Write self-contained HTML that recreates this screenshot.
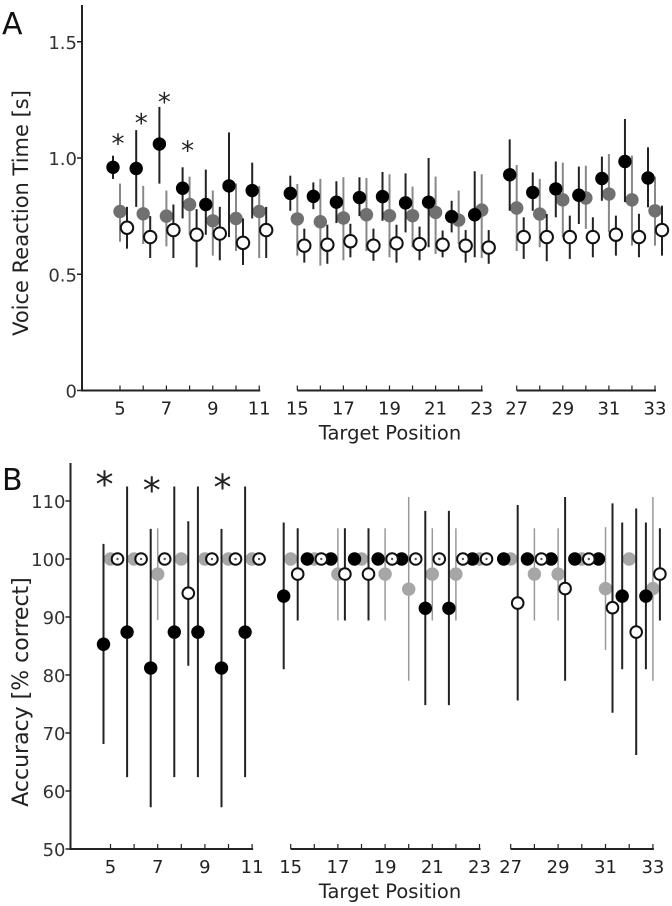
<!DOCTYPE html>
<html><head><meta charset="utf-8"><style>
html,body{margin:0;padding:0;background:#fff;}
svg{display:block;font-family:"DejaVu Sans","Liberation Sans",sans-serif;}
</style></head><body>
<svg id="fig" width="672" height="906" viewBox="0 0 672 906" xmlns="http://www.w3.org/2000/svg"></svg>
<script>
// ---------- data ----------
const positions = [5,6,7,8,9,10,11, 15,16,17,18,19,20,21,22,23, 27,28,29,30,31,32,33];
const tickLabels = [5,7,9,11,15,17,19,21,23,27,29,31,33];

// Panel A: voice reaction time [s]
const aBlack   = [0.96,0.955,1.06,0.87,0.80,0.88,0.86, 0.848,0.835,0.81,0.83,0.834,0.807,0.81,0.748,0.756, 0.928,0.852,0.867,0.84,0.912,0.985,0.914];
const aBlackLo = [0.91,0.79,0.89,0.74,0.67,0.66,0.74, 0.773,0.78,0.72,0.75,0.73,0.68,0.616,0.68,0.573, 0.773,0.773,0.745,0.716,0.816,0.81,0.788];
const aBlackHi = [1.01,1.12,1.22,0.96,0.95,1.11,0.98, 0.924,0.895,0.90,0.917,0.94,0.934,1.0,0.816,0.943, 1.08,0.938,0.985,0.963,1.006,1.168,1.046];
const aGray    = [0.77,0.76,0.75,0.80,0.73,0.74,0.77, 0.738,0.726,0.742,0.756,0.752,0.752,0.766,0.733,0.776, 0.785,0.759,0.82,0.828,0.845,0.82,0.773];
const aGrayLo  = [0.64,0.63,0.62,0.67,0.58,0.60,0.57, 0.58,0.537,0.56,0.60,0.573,0.616,0.587,0.63,0.57, 0.60,0.616,0.66,0.695,0.68,0.623,0.623];
const aGrayHi  = [0.89,0.88,0.86,0.92,0.86,0.89,0.88, 0.888,0.91,0.917,0.914,0.93,0.877,0.92,0.86,0.93, 0.97,0.91,0.98,0.967,1.017,1.01,0.92];
const aOpen    = [0.70,0.66,0.69,0.67,0.675,0.635,0.69, 0.623,0.627,0.642,0.623,0.633,0.63,0.627,0.623,0.615, 0.66,0.66,0.66,0.66,0.67,0.66,0.69];
const aOpenLo  = [0.61,0.57,0.57,0.53,0.56,0.54,0.57, 0.55,0.545,0.573,0.558,0.55,0.56,0.573,0.55,0.545, 0.566,0.556,0.566,0.573,0.58,0.573,0.58];
const aOpenHi  = [0.79,0.75,0.80,0.78,0.79,0.74,0.79, 0.696,0.713,0.717,0.696,0.713,0.705,0.688,0.69,0.69, 0.745,0.759,0.752,0.745,0.752,0.76,0.795];
const aYTicks = [0,0.5,1.0,1.5];
const aYTickLabels = ["0","0.5","1.0","1.5"];
const aStarPositions = [5,6,7,8];
const aStarValues = [1.09,1.18,1.27,1.06];

// Panel B: accuracy [% correct]
const N = null;
const bBlack   = [85.3,87.4,81.2,87.4,87.4,81.2,87.4, 93.6,100,100,100,100,100,91.5,91.5,100, 100,100,100,100,100,93.6,93.6];
const bBlackLo = [68.1,62.4,57.2,62.4,62.4,57.2,62.4, 81.0,N,N,N,N,N,74.8,74.8,N, N,N,N,N,N,81.0,81.0];
const bBlackHi = [102.6,112.5,105.2,112.5,112.5,105.2,112.5, 106.3,N,N,N,N,N,108.3,108.3,N, N,N,N,N,N,106.3,106.3];
const bGray    = [100,100,97.4,100,100,100,100, 100,100,97.4,100,97.4,94.8,97.4,97.4,100, 100,97.4,97.4,100,94.9,100,94.9];
const bGrayLo  = [N,N,89.5,N,N,N,N, N,N,89.4,N,89.4,79.0,89.4,89.4,N, N,89.4,89.4,N,84.3,N,79.0];
const bGrayHi  = [N,N,105.3,N,N,N,N, N,N,105.3,N,105.3,110.7,105.3,105.3,N, N,105.3,105.3,N,105.5,N,110.7];
const bOpen    = [100,100,100,94.1,100,100,100, 97.4,100,97.4,97.4,100,100,100,100,100, 92.4,100,94.9,100,91.6,87.4,97.4];
const bOpenLo  = [N,N,N,81.6,N,N,N, 89.4,N,89.4,89.4,N,N,N,N,N, 75.6,N,79.0,N,73.5,66.2,89.4];
const bOpenHi  = [N,N,N,106.5,N,N,N, 105.3,N,105.3,105.3,N,N,N,N,N, 109.3,N,110.7,N,109.6,108.7,105.3];
const bYTicks = [50,60,70,80,90,100,110];
const bStarPositions = [5,7,10];
const bStarValues = [114.5,113.5,114];

// ---------- helpers ----------
const svg = document.getElementById('fig');
const NS = 'http://www.w3.org/2000/svg';
function mk(tag, attrs, parent){
  const e = document.createElementNS(NS, tag);
  for (const k in attrs) e.setAttribute(k, attrs[k]);
  (parent||svg).appendChild(e);
  return e;
}

function makeX(segs){
  return function(p){
    for (const s of segs){ if (p>=s.p0 && p<=s.p1) return s.x0 + (p-s.p0)*s.dx; }
    return 0;
  };
}

function drawPanel(cfg){
  const g = mk('g', {});
  
  
  const x = makeX(cfg.segs);
  const y = v => cfg.y0 - (v - cfg.v0) * cfg.ky;

  const ya = mk('line', {x1:cfg.yAxisX, x2:cfg.yAxisX, y1:cfg.yTop, y2:cfg.axisY+1, stroke:'#222', 'stroke-width':2}, g);
  
  
  cfg.yTicks.forEach((t,i)=>{
    const yy = y(t);
    const tk = mk('line', {x1:cfg.yAxisX-5, x2:cfg.yAxisX, y1:yy, y2:yy, stroke:'#222', 'stroke-width':1.5}, g);
    
    
    const tl = mk('text', {x:cfg.yAxisX-5, y:yy+7, 'text-anchor':'end', 'font-size':18, fill:'#333'}, g);
    tl.textContent = cfg.yTickLabels ? cfg.yTickLabels[i] : String(t);
    
    
  });
  cfg.segs.forEach(s=>{
    const start = s.axisStart !== undefined ? s.axisStart : x(s.p0);
    const xa = mk('line', {x1:start, x2:x(s.p1)+1, y1:cfg.axisY, y2:cfg.axisY, stroke:'#222', 'stroke-width':2}, g);
    
    
    for (let p=s.p0; p<=s.p1; p++){
      const tk = mk('line', {x1:x(p), x2:x(p), y1:cfg.axisY-5, y2:cfg.axisY, stroke:'#222', 'stroke-width':1.2}, g);
      
      
    }
  });
  tickLabels.forEach(p=>{
    const tl = mk('text', {x:x(p), y:cfg.axisY+24, 'text-anchor':'middle', 'font-size':18, fill:'#222'}, g);
    tl.textContent = String(p);
    
    
  });
  const xt = mk('text', {x:390, y:cfg.axisY+49, 'text-anchor':'middle', 'font-size':19.5, fill:'#222'}, g);
  xt.textContent = 'Target Position';
  
  
  const yt = mk('text', {x:0, y:0, 'text-anchor':'middle', 'font-size':cfg.yTitleFs, fill:'#222', transform:`translate(${cfg.yTitleX},${cfg.yTitleY}) rotate(-90)`}, g);
  yt.textContent = cfg.yTitle;
  
  
  const pl = mk('text', {x:cfg.letterX, y:cfg.letterY, 'font-size':30, fill:'#111'}, g);
  pl.textContent = cfg.letter;
  
  

  cfg.series.forEach(ser=>{
    const sg = mk('g', {}, g);
    
    
    positions.forEach((p,i)=>{
      const cx = x(p) + ser.off;
      if (ser.lo[i] !== null && ser.hi[i] !== null){
        const eb = mk('line', {x1:cx, x2:cx, y1:y(ser.hi[i]), y2:y(ser.lo[i]), stroke:ser.errColor, 'stroke-width':ser.errW}, sg);
        
        
      }
    });
    positions.forEach((p,i)=>{
      const cx = x(p) + ser.off, cy = y(ser.mean[i]);
      let m;
      if (ser.open){
        m = mk('circle', {cx:cx, cy:cy, r:ser.r, fill:'#fff', stroke:'#111', 'stroke-width':2}, sg);
        if (ser.dotAt !== undefined && ser.mean[i] === ser.dotAt){
          const d = mk('circle', {cx:cx, cy:cy, r:1.2, fill:'#555'}, sg);
          
          
        }
      } else {
        m = mk('circle', {cx:cx, cy:cy, r:6.7, fill:ser.fill}, sg);
      }
      
      
    });
  });
  cfg.starPos.forEach((p,i)=>{
    const st = mk('text', {x:x(p)+cfg.starOff, y:y(cfg.starVal[i]) + cfg.starFs*0.6, 'text-anchor':'middle', 'font-size':cfg.starFs, fill:'#222'}, g);
    st.textContent = '*';
    
    
  });
}

drawPanel({
  name:'panel-a-reaction-time', letter:'A', letterX:2, letterY:34,
  segs:[{p0:5,p1:11,x0:120,dx:23.2,axisStart:82},{p0:15,p1:23,x0:297.3,dx:23.05},{p0:27,p1:33,x0:516.7,dx:23.05}],
  v0:0, y0:390.5, ky:232.5, yAxisX:82, yTop:5, axisY:390.5,
  yTicks:aYTicks, yTickLabels:aYTickLabels,
  yTitle:'Voice Reaction Time [s]', yTitleFs:21, yTitleX:28, yTitleY:213,
  starPos:aStarPositions, starVal:aStarValues, starFs:26, starOff:-2,
  series:[
    {name:'series-gray', mean:aGray, lo:aGrayLo, hi:aGrayHi, off:0, fill:'#707070', errColor:'#888', errW:2},
    {name:'series-black', mean:aBlack, lo:aBlackLo, hi:aBlackHi, off:-7, fill:'#000', errColor:'#222', errW:2},
    {name:'series-open', mean:aOpen, lo:aOpenLo, hi:aOpenHi, off:7, open:true, r:6.2, errColor:'#222', errW:2}
  ]
});

drawPanel({
  name:'panel-b-accuracy', letter:'B', letterX:2, letterY:490,
  segs:[{p0:5,p1:11,x0:110.5,dx:23.6,axisStart:70.5},{p0:15,p1:23,x0:290.7,dx:23.6},{p0:27,p1:33,x0:510.7,dx:23.7}],
  v0:50, y0:849, ky:5.8, yAxisX:70.5, yTop:463, axisY:849,
  yTicks:bYTicks,
  yTitle:'Accuracy [% correct]', yTitleFs:22, yTitleX:28, yTitleY:692,
  starPos:bStarPositions, starVal:bStarValues, starFs:36, starOff:-6,
  series:[
    {name:'series-gray', mean:bGray, lo:bGrayLo, hi:bGrayHi, off:0, fill:'#a6a6a6', errColor:'#999', errW:1.5},
    {name:'series-black', mean:bBlack, lo:bBlackLo, hi:bBlackHi, off:-7, fill:'#000', errColor:'#222', errW:2},
    {name:'series-open', mean:bOpen, lo:bOpenLo, hi:bOpenHi, off:7, open:true, r:5.8, dotAt:100, errColor:'#222', errW:2}
  ]
});
</script>
</body></html>
